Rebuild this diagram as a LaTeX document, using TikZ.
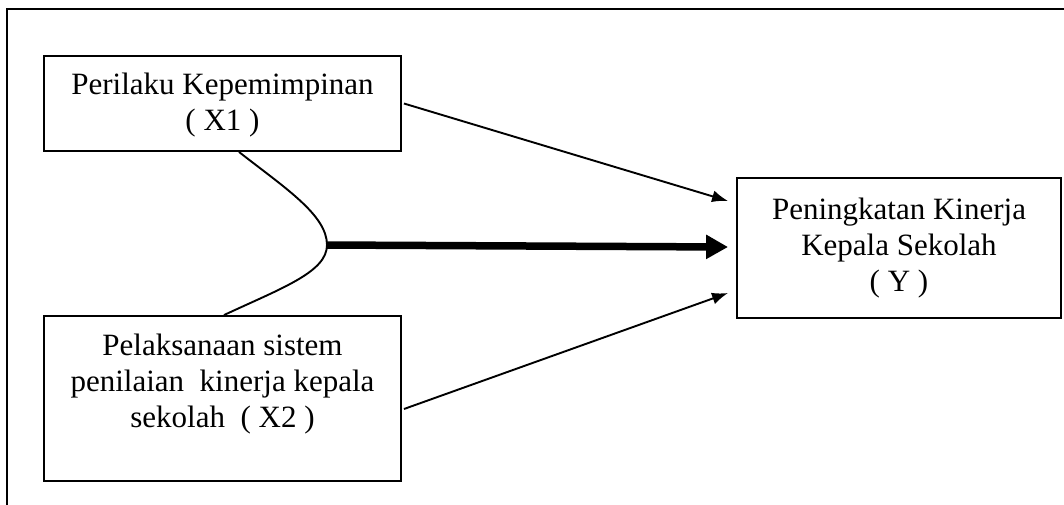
\documentclass[tikz,border=0pt]{standalone}
\usepackage{fontspec}
\setmainfont{Liberation Serif}
\usetikzlibrary{arrows.meta}
\begin{document}
\begin{tikzpicture}[x=1pt,y=-1pt,
  varbox/.style={draw, line width=1.9pt, align=center, inner sep=0pt,
    font=\fontsize{31}{36}\selectfont},
  thinarrow/.style={line width=1.9pt, -{Latex[length=16pt,width=12pt]}},
  thickarrow/.style={line width=7.5pt, -{Triangle[length=22pt,width=23pt]}},
  frameline/.style={line width=1.9pt}]
\useasboundingbox (0,0) rectangle (1064,504);
% outer frame (only top and left visible)
\draw[frameline] (7,520) -- (7,9) -- (1080,9);
% nodes
\node[varbox, minimum width=357pt, minimum height=95pt] (x1) at (222.5,103.5)
  {\rule{0pt}{25pt}Perilaku Kepemimpinan\\( X1 )};
\node[varbox, minimum width=357pt, minimum height=165pt] (x2) at (222.5,398.5)
  {Pelaksanaan sistem\\penilaian\ \ kinerja kepala\\sekolah\ \ ( X2 )\\\mbox{}};
\node[varbox, minimum width=324pt, minimum height=140pt] (y) at (899,248)
  {Peningkatan Kinerja\\Kepala Sekolah\\( Y )};
% coordinates
\coordinate (c1) at ([xshift=16.5pt]x1.south);
\coordinate (c2) at ([xshift=1.5pt]x2.north);
\coordinate (ap) at (327,245);
\coordinate (t1) at ([xshift=-8pt,yshift=47pt]y.west);
\coordinate (t2) at ([xshift=-8pt,yshift=1pt]y.west);
\coordinate (t3) at ([xshift=-8pt,yshift=-45pt]y.west);
\coordinate (s3) at ([xshift=2pt,yshift=-10.5pt]x2.east);
% connectors
\draw[line width=1.9pt] (c1) .. controls (285,188) and (327,215) .. (ap)
  .. controls (327,272) and (282,288) .. (c2);
\draw[thinarrow] ([xshift=2pt]x1.east) -- (t1);
\draw[thickarrow] (ap) -- (t2);
\draw[thinarrow] (s3) -- (t3);
\end{tikzpicture}
\end{document}
